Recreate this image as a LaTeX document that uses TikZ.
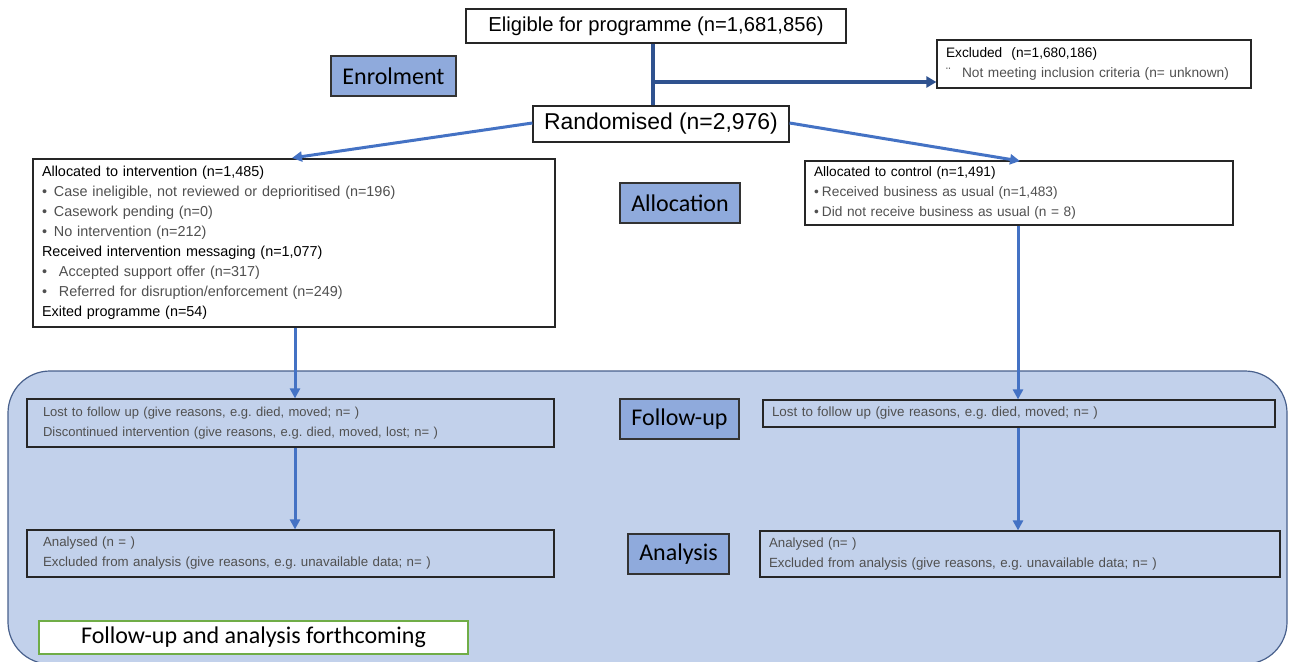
\documentclass[tikz,border=0pt]{standalone}
\usepackage{fontspec}
\setmainfont{Liberation Sans}
\newfontfamily\calib{Carlito}
\usetikzlibrary{arrows.meta}
\definecolor{arrowblue}{RGB}{68,114,196}
\definecolor{darkconn}{RGB}{47,82,143}
\definecolor{labelfill}{RGB}{143,170,220}
\definecolor{bigfill}{RGB}{194,209,235}
\definecolor{bigborder}{RGB}{72,96,140}
\definecolor{tgray}{RGB}{80,80,80}
\definecolor{greenborder}{RGB}{112,173,71}
\frenchspacing
\tikzset{
  wbox/.style={draw=black!85, fill=white, line width=1.2pt, inner sep=0pt, align=center},
  txtbox/.style={draw=black!85, line width=1.2pt, inner xsep=9pt, inner ysep=0pt, align=left,
     font=\fontsize{13.7}{20}\selectfont},
  stagebox/.style={draw=black!80, fill=labelfill, line width=1.1pt, inner sep=0pt,
     font=\calib\fontsize{24}{26}\selectfont},
  flowarrow/.style={draw=arrowblue, line width=3pt, -{Triangle[width=10pt,length=10pt]}},
  topconn/.style={draw=darkconn, line width=3.4pt},
}
\newcommand{\bul}[1][12pt]{\makebox[#1][l]{\textbullet}}
\begin{document}
\begin{tikzpicture}[x=1pt,y=-1pt]
\useasboundingbox (0,0) rectangle (1289,661);
\clip (0,0) rectangle (1289,661);
% big follow-up / analysis panel
\path[fill=bigfill, draw=bigborder, line width=1.2pt, rounded corners=42pt] (8,371) rectangle (1287,664);

% top boxes
\node[wbox, minimum width=380, minimum height=34, font=\fontsize{20.2}{22}\selectfont] (elig) at (656,26) {Eligible for programme (n=1,681,856)};
\node[txtbox, fill=white, text width=296, minimum height=48, inner xsep=9pt] (excl) at (1094,64)
 {Excluded\ \ (n=1,680,186)\\ {\color{tgray}\makebox[16pt][l]{¨}Not meeting inclusion criteria (n= unknown)}};
\node[wbox, minimum width=256, minimum height=36, font=\fontsize{22.9}{24}\selectfont] (rand) at (661,124) {Randomised (n=2,976)};

% stage labels
\node[stagebox, minimum width=125, minimum height=40] (enrol) at (393.5,76) {Enrolment};
\node[stagebox, minimum width=120, minimum height=40] (alloc) at (680,203) {Allocation};
\node[stagebox, minimum width=119, minimum height=40] (fup) at (679.5,419) {Follow-up};
\node[stagebox, minimum width=101, minimum height=40] (anal) at (678.5,554) {Analysis};

% allocation boxes
\node[txtbox, fill=white, text width=504, minimum height=168, font=\fontsize{14.4}{20}\selectfont] (intv) at (294,243)
 {Allocated to intervention (n=1,485)\\
  {\color{tgray}\bul Case ineligible, not reviewed or deprioritised (n=196)}\\
  {\color{tgray}\bul Casework pending (n=0)}\\
  {\color{tgray}\bul No intervention (n=212)}\\
  Received intervention messaging (n=1,077)\\
  {\color{tgray}\bul[17pt]Accepted support offer (n=317)}\\
  {\color{tgray}\bul[17pt]Referred for disruption/enforcement (n=249)}\\
  Exited programme (n=54)};
\node[txtbox, fill=white, text width=410, minimum height=64] (ctrl) at (1019,193)
 {Allocated to control (n=1,491)\\
  {\color{tgray}\bul[8pt]Received business as usual (n=1,483)}\\
  {\color{tgray}\bul[8pt]Did not receive business as usual (n = 8)}};

% follow-up boxes
\node[txtbox, text width=495, inner xsep=16pt, minimum height=48, text=tgray, font=\fontsize{13}{20}\selectfont] (fupL) at (290.5,423)
 {Lost to follow up (give reasons, e.g. died, moved; n= )\\
  Discontinued intervention (give reasons, e.g. died, moved, lost; n= )};
\node[txtbox, text width=494, minimum height=27, text=tgray, font=\fontsize{13.4}{20}\selectfont] (fupR) at (1019,413.5)
 {Lost to follow up (give reasons, e.g. died, moved; n= )};

% analysis boxes
\node[txtbox, text width=495, inner xsep=16pt, minimum height=47, text=tgray, font=\fontsize{13.3}{20}\selectfont] (anL) at (290.5,553.5)
 {Analysed (n = )\\
  Excluded from analysis (give reasons, e.g. unavailable data; n= )};
\node[txtbox, text width=502, minimum height=46, text=tgray, font=\fontsize{13.3}{20}\selectfont] (anR) at (1020,554)
 {Analysed (n= )\\
  Excluded from analysis (give reasons, e.g. unavailable data; n= )};

% forthcoming note
\node[draw=greenborder, fill=white, line width=1.2pt, minimum width=429, minimum height=33, inner sep=0pt,
  font=\calib\fontsize{24}{26}\selectfont] (note) at (253.5,637.5) {Follow-up and analysis forthcoming};

% connectors
\coordinate (br) at (653,82);
\draw[topconn] (elig.south -| br) -- (rand.north -| br);
\draw[topconn, -{Triangle[width=11pt,length=10pt]}] (br) -- (br -| excl.west);
\draw[flowarrow] (rand.west |- 0,123) -- (292,158) coordinate (intvtop);
\draw[flowarrow] (rand.east |- 0,123) -- (1020,161) coordinate (ctrltop);
\coordinate (lx) at (295,0);
\coordinate (rx) at (1018,0);
\draw[flowarrow] (intv.south -| lx) -- (fupL.north -| lx);
\draw[flowarrow] (ctrl.south -| rx) -- (fupR.north -| rx);
\draw[flowarrow] (fupL.south -| lx) -- (anL.north -| lx);
\draw[flowarrow] (fupR.south -| rx) -- (anR.north -| rx);
\end{tikzpicture}
\end{document}
